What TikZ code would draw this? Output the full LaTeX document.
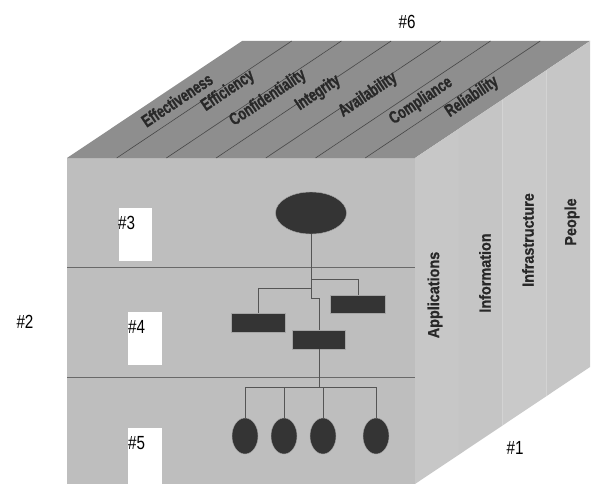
\documentclass[tikz,border=0pt]{standalone}
\usepackage{fontspec}
\setmainfont{Liberation Sans}
\newfontfamily\numfont[FakeStretch=0.8]{Liberation Sans}
\newfontfamily\condbold[FakeStretch=0.72,FakeBold=1.2]{Liberation Sans Bold}
\newfontfamily\sidebold[FakeStretch=0.9,FakeBold=0.8]{Liberation Sans Bold}
\usetikzlibrary{shapes.geometric,calc}
\definecolor{frontc}{RGB}{190,190,190}
\definecolor{topc}{RGB}{142,142,142}
\definecolor{bandA}{RGB}{199,199,199}
\definecolor{bandB}{RGB}{197,197,197}
\definecolor{bandC}{RGB}{201,201,201}
\definecolor{bandD}{RGB}{198,198,198}
\definecolor{darkc}{RGB}{52,52,52}
\definecolor{labc}{RGB}{40,40,40}
\definecolor{linec}{RGB}{85,85,85}
\definecolor{divc}{RGB}{105,105,105}
\tikzset{
  toplabel/.style={font=\condbold\fontsize{17.5}{17.5}\selectfont, text=labc, rotate=33.8, inner sep=0pt},
  sidelabel/.style={font=\sidebold\fontsize{16}{16}\selectfont, text=labc, rotate=90, inner sep=0pt},
  numlabel/.style={font=\numfont\fontsize{19}{19}\selectfont, text=black, inner sep=0pt},
  darkrect/.style={rectangle, fill=darkc, draw=gray!70, line width=0.4pt, inner sep=0pt},
  darkoval/.style={ellipse, fill=darkc, draw=gray!70, line width=0.4pt, inner sep=0pt},
  link/.style={draw=linec, line width=0.8pt},
  divider/.style={draw=divc, line width=0.9pt},
  diag/.style={draw=darkc!90, line width=0.6pt}
}
\begin{document}
\begin{tikzpicture}[x=1pt,y=-1pt]
\useasboundingbox (0,0) rectangle (594,484);
% faces
\fill[frontc] (67,158) rectangle (415,484);
\fill[topc] (67,158) -- (415,158) -- (590,41) -- (242,41) -- cycle;
\foreach \i/\c in {0/bandA,1/bandB,2/bandC,3/bandD}{
  \fill[\c] ({415+43.75*\i},{158-29.25*\i}) -- ({415+43.75*(\i+1)},{158-29.25*(\i+1)})
     -- ({415+43.75*(\i+1)},{484-29.25*(\i+1)}) -- ({415+43.75*\i},{484-29.25*\i}) -- cycle;
}
% top diagonal lines
\foreach \k in {1,...,6}{
  \draw[diag] ({67+49.7*\k},158) -- ++(175,-117);
}
% dividers on the front face
\draw[divider] (67,267) -- (415,267);
\draw[divider] (67,377) -- (415,377);
% top labels
\node[toplabel] (t1) at (177,100) {Effectiveness};
\node[toplabel] (t2) at (228,91) {Efficiency};
\node[toplabel] (t3) at (268,98) {Confidentiality};
\node[toplabel] (t4) at (318,93) {Integrity};
\node[toplabel] (t5) at (368,95) {Availability};
\node[toplabel] (t6) at (421,101) {Compliance};
\node[toplabel] (t7) at (472,97) {Reliability};
% side labels
\node[sidelabel] (s1) at (435,295) {Applications};
\node[sidelabel] (s2) at (485,273) {Information};
\node[sidelabel] (s3) at (528,240) {Infrastructure};
\node[sidelabel] (s4) at (572,222) {People};
% white boxes
\fill[white] (119,208) rectangle (152,261);
\fill[white] (128,312) rectangle (162,365);
\fill[white] (128,428) rectangle (162,484);
% number labels
\node[numlabel, anchor=west] (n3) at (118,223) {\#3};
\node[numlabel, anchor=west] (n4) at (128,327) {\#4};
\node[numlabel, anchor=west] (n5) at (128,443) {\#5};
\node[numlabel] (n6) at (407,22) {\#6};
\node[numlabel] (n2) at (25,322) {\#2};
\node[numlabel] (n1) at (515,448) {\#1};
% org chart
\node[darkoval, minimum width=71pt, minimum height=42pt] (e) at (311,213) {};
\node[darkrect, minimum width=54pt, minimum height=19pt] (r1) at (258,322.5) {};
\node[darkrect, minimum width=55pt, minimum height=18pt] (r2) at (358,304) {};
\node[darkrect, minimum width=53pt, minimum height=19pt] (r3) at (319,339.5) {};
\foreach \i/\x in {1/245,2/284,3/323,4/376}{
  \node[darkoval, minimum width=26pt, minimum height=36pt] (o\i) at (\x,436) {};
}
\coordinate (ja) at (311,279);
\coordinate (jb) at (311,288);
\coordinate (jc) at (311,298);
\draw[link] (e.south) -- (jc) -| (r3.north);
\draw[link] (ja) -| (r2.north);
\draw[link] (jb) -| (r1.north);
\coordinate (bus) at ($(r3.south)+(0,38)$);
\draw[link] (r3.south) -- (bus);
\foreach \i in {1,...,4}{
  \draw[link] (bus) -| (o\i.north);
}
\end{tikzpicture}
\end{document}
